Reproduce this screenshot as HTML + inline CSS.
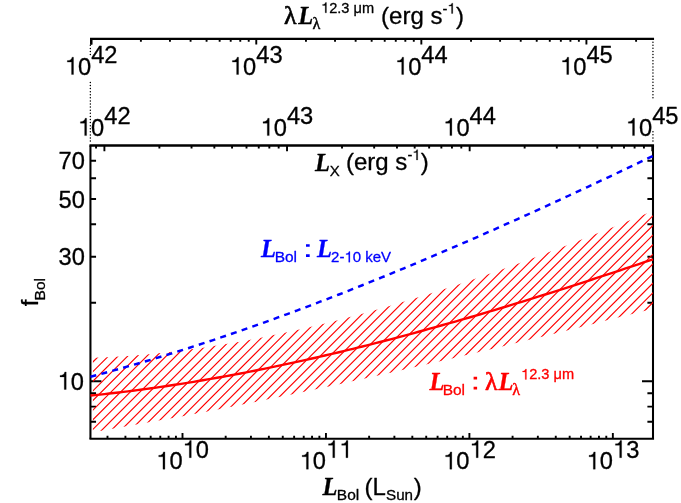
<!DOCTYPE html><html><head><meta charset="utf-8"><title>fBol</title>
<style>html,body{margin:0;padding:0;background:#fff;}svg{display:block;will-change:transform}text{font-family:"Liberation Sans",sans-serif;fill:#000;stroke:#000;stroke-width:.3px;stroke-linejoin:round;font-kerning:none}.s{font-family:"Liberation Serif",serif;stroke-width:.7px}.bi{font-family:"Liberation Serif",serif;font-weight:bold;font-style:italic}.b text,.b{fill:#0000ff}.r text,.r{fill:#ff0000}</style></head><body>
<svg width="681" height="503" viewBox="0 0 681 503">
<rect width="100%" height="100%" fill="#fff"/>
<g stroke="#000" fill="none" stroke-linecap="butt">
<path d="M90.00 38.80 H654.05" stroke-width="2.35"/>
<path d="M91.22 38.80 v5.8" stroke-width="2.45"/>
<path d="M89.45 145.50 H654.05" stroke-width="2.3"/>
<path d="M89.45 438.75 H654.05" stroke-width="2.1"/>
<path d="M90.45 145.50 V438.75 M653.00 145.50 V438.75" stroke-width="2.05"/>
</g>
<path d="M91.20 38.80 v5.80 M140.89 38.80 v3.00 M169.96 38.80 v3.00 M190.58 38.80 v3.00 M206.58 38.80 v3.00 M219.65 38.80 v3.00 M230.70 38.80 v3.00 M240.27 38.80 v3.00 M248.72 38.80 v3.00 M256.27 38.80 v5.80 M305.96 38.80 v3.00 M335.03 38.80 v3.00 M355.65 38.80 v3.00 M371.65 38.80 v3.00 M384.72 38.80 v3.00 M395.77 38.80 v3.00 M405.34 38.80 v3.00 M413.79 38.80 v3.00 M421.34 38.80 v5.80 M471.03 38.80 v3.00 M500.10 38.80 v3.00 M520.72 38.80 v3.00 M536.72 38.80 v3.00 M549.79 38.80 v3.00 M560.84 38.80 v3.00 M570.41 38.80 v3.00 M578.86 38.80 v3.00 M586.41 38.80 v5.80 M636.10 38.80 v3.00 M96.04 145.50 v3.00 M104.40 145.50 v5.80 M159.38 145.50 v3.00 M191.54 145.50 v3.00 M214.35 145.50 v3.00 M232.05 145.50 v3.00 M246.51 145.50 v3.00 M258.74 145.50 v3.00 M269.33 145.50 v3.00 M278.67 145.50 v3.00 M287.03 145.50 v5.80 M342.01 145.50 v3.00 M374.17 145.50 v3.00 M396.98 145.50 v3.00 M414.68 145.50 v3.00 M429.14 145.50 v3.00 M441.37 145.50 v3.00 M451.96 145.50 v3.00 M461.30 145.50 v3.00 M469.66 145.50 v5.80 M524.64 145.50 v3.00 M556.80 145.50 v3.00 M579.61 145.50 v3.00 M597.31 145.50 v3.00 M611.77 145.50 v3.00 M624.00 145.50 v3.00 M634.59 145.50 v3.00 M643.93 145.50 v3.00 M652.29 145.50 v5.80 M107.49 438.75 v-3.00 M125.42 438.75 v-3.00 M139.32 438.75 v-3.00 M150.68 438.75 v-3.00 M160.28 438.75 v-3.00 M168.60 438.75 v-3.00 M175.94 438.75 v-3.00 M182.50 438.75 v-5.80 M225.68 438.75 v-3.00 M250.94 438.75 v-3.00 M268.87 438.75 v-3.00 M282.77 438.75 v-3.00 M294.13 438.75 v-3.00 M303.73 438.75 v-3.00 M312.05 438.75 v-3.00 M319.39 438.75 v-3.00 M325.95 438.75 v-5.80 M369.13 438.75 v-3.00 M394.39 438.75 v-3.00 M412.32 438.75 v-3.00 M426.22 438.75 v-3.00 M437.58 438.75 v-3.00 M447.18 438.75 v-3.00 M455.50 438.75 v-3.00 M462.84 438.75 v-3.00 M469.40 438.75 v-5.80 M512.58 438.75 v-3.00 M537.84 438.75 v-3.00 M555.77 438.75 v-3.00 M569.67 438.75 v-3.00 M581.03 438.75 v-3.00 M590.63 438.75 v-3.00 M598.95 438.75 v-3.00 M606.29 438.75 v-3.00 M612.85 438.75 v-5.80 M90.45 421.71 h5.60 M653.00 421.71 h-5.60 M90.45 406.58 h5.60 M653.00 406.58 h-5.60 M90.45 393.24 h5.60 M653.00 393.24 h-5.60 M90.45 381.30 h11.00 M653.00 381.30 h-11.00 M90.45 302.76 h5.60 M653.00 302.76 h-5.60 M90.45 256.82 h5.60 M653.00 256.82 h-5.60 M90.45 224.22 h5.60 M653.00 224.22 h-5.60 M90.45 198.94 h5.60 M653.00 198.94 h-5.60 M90.45 178.28 h5.60 M653.00 178.28 h-5.60 M90.45 160.81 h5.60 M653.00 160.81 h-5.60" stroke="#000" stroke-width="1.9" fill="none"/>
<path d="M90.35 141.10h.01 M652.95 141.05h.01 M90.35 138.01h.01 M652.95 137.96h.01 M90.35 134.92h.01 M652.95 134.87h.01 M90.35 131.83h.01 M652.95 131.78h.01 M90.35 128.74h.01 M90.35 125.65h.01 M90.35 122.56h.01 M90.35 119.47h.01 M90.35 116.38h.01 M90.35 113.29h.01 M90.35 110.20h.01 M90.35 107.11h.01 M90.35 104.02h.01 M90.35 100.93h.01 M90.35 97.84h.01 M652.95 97.79h.01 M90.35 94.75h.01 M652.95 94.70h.01 M90.35 91.66h.01 M652.95 91.61h.01 M90.35 88.57h.01 M652.95 88.52h.01 M90.35 85.48h.01 M652.95 85.43h.01 M90.35 82.39h.01 M652.95 82.34h.01 M652.95 79.25h.01 M652.95 76.16h.01 M652.95 73.07h.01 M652.95 69.98h.01 M652.95 66.89h.01 M652.95 63.80h.01 M652.95 60.71h.01 M652.95 57.62h.01 M90.35 54.58h.01 M652.95 54.53h.01 M90.35 51.49h.01 M652.95 51.44h.01 M90.35 48.40h.01 M652.95 48.35h.01 M90.35 45.31h.01 M652.95 45.26h.01 M652.95 42.17h.01" stroke="#000" stroke-width="1.5" stroke-linecap="round" fill="none"/>
<defs><clipPath id="band"><polygon points="92.90,357.86 99.90,357.58 106.90,357.25 113.90,356.87 120.91,356.43 127.91,355.95 134.91,355.41 141.91,354.82 148.91,354.19 155.91,353.50 162.91,352.77 169.91,351.99 176.92,351.16 183.92,350.29 190.92,349.36 197.92,348.40 204.92,347.38 211.92,346.33 218.92,345.22 225.92,344.08 232.93,342.89 239.93,341.66 246.93,340.38 253.93,339.07 260.93,337.71 267.93,336.31 274.93,334.87 281.93,333.39 288.94,331.87 295.94,330.32 302.94,328.72 309.94,327.09 316.94,325.42 323.94,323.71 330.94,321.96 337.94,320.18 344.95,318.37 351.95,316.52 358.95,314.63 365.95,312.71 372.95,310.76 379.95,308.77 386.95,306.75 393.95,304.70 400.96,302.62 407.96,300.51 414.96,298.37 421.96,296.19 428.96,293.99 435.96,291.76 442.96,289.50 449.96,287.21 456.97,284.90 463.97,282.55 470.97,280.18 477.97,277.79 484.97,275.37 491.97,272.92 498.97,270.45 505.97,267.96 512.98,265.44 519.98,262.90 526.98,260.34 533.98,257.75 540.98,255.15 547.98,252.52 554.98,249.87 561.98,247.20 568.99,244.51 575.99,241.81 582.99,239.08 589.99,236.34 596.99,233.58 603.99,230.80 610.99,228.00 617.99,225.19 625.00,222.37 632.00,219.53 639.00,216.67 646.00,213.80 653.00,210.92 653.00,308.58 646.00,310.38 639.00,312.18 632.00,313.97 625.00,315.76 617.99,317.55 610.99,319.33 603.99,321.11 596.99,322.88 589.99,324.65 582.99,326.41 575.99,328.17 568.99,329.93 561.98,331.68 554.98,333.42 547.98,335.16 540.98,336.89 533.98,338.62 526.98,340.35 519.98,342.07 512.98,343.78 505.97,345.48 498.97,347.19 491.97,348.88 484.97,350.57 477.97,352.25 470.97,353.93 463.97,355.60 456.97,357.26 449.96,358.92 442.96,360.57 435.96,362.21 428.96,363.85 421.96,365.48 414.96,367.10 407.96,368.71 400.96,370.32 393.95,371.92 386.95,373.51 379.95,375.10 372.95,376.68 365.95,378.24 358.95,379.81 351.95,381.36 344.95,382.90 337.94,384.44 330.94,385.97 323.94,387.48 316.94,388.99 309.94,390.50 302.94,391.99 295.94,393.47 288.94,394.95 281.93,396.41 274.93,397.87 267.93,399.31 260.93,400.75 253.93,402.18 246.93,403.59 239.93,405.00 232.93,406.40 225.92,407.78 218.92,409.16 211.92,410.53 204.92,411.88 197.92,413.23 190.92,414.56 183.92,415.89 176.92,417.20 169.91,418.50 162.91,419.79 155.91,421.07 148.91,422.34 141.91,423.60 134.91,424.84 127.91,426.08 120.91,427.30 113.90,428.51 106.90,429.71 99.90,430.89 92.90,432.07"/></clipPath></defs>
<path d="M80.00 326.81 L660.00 -253.19 M80.00 336.43 L660.00 -243.57 M80.00 346.06 L660.00 -233.94 M80.00 355.68 L660.00 -224.32 M80.00 365.31 L660.00 -214.69 M80.00 374.93 L660.00 -205.07 M80.00 384.55 L660.00 -195.45 M80.00 394.18 L660.00 -185.82 M80.00 403.80 L660.00 -176.20 M80.00 413.43 L660.00 -166.57 M80.00 423.05 L660.00 -156.95 M80.00 432.67 L660.00 -147.33 M80.00 442.30 L660.00 -137.70 M80.00 451.92 L660.00 -128.08 M80.00 461.55 L660.00 -118.45 M80.00 471.17 L660.00 -108.83 M80.00 480.79 L660.00 -99.21 M80.00 490.42 L660.00 -89.58 M80.00 500.04 L660.00 -79.96 M80.00 509.67 L660.00 -70.33 M80.00 519.29 L660.00 -60.71 M80.00 528.91 L660.00 -51.09 M80.00 538.54 L660.00 -41.46 M80.00 548.16 L660.00 -31.84 M80.00 557.79 L660.00 -22.21 M80.00 567.41 L660.00 -12.59 M80.00 577.03 L660.00 -2.97 M80.00 586.66 L660.00 6.66 M80.00 596.28 L660.00 16.28 M80.00 605.91 L660.00 25.91 M80.00 615.53 L660.00 35.53 M80.00 625.15 L660.00 45.15 M80.00 634.78 L660.00 54.78 M80.00 644.40 L660.00 64.40 M80.00 654.03 L660.00 74.03 M80.00 663.65 L660.00 83.65 M80.00 673.27 L660.00 93.27 M80.00 682.90 L660.00 102.90 M80.00 692.52 L660.00 112.52 M80.00 702.15 L660.00 122.15 M80.00 711.77 L660.00 131.77 M80.00 721.39 L660.00 141.39 M80.00 731.02 L660.00 151.02 M80.00 740.64 L660.00 160.64 M80.00 750.27 L660.00 170.27 M80.00 759.89 L660.00 179.89 M80.00 769.51 L660.00 189.51 M80.00 779.14 L660.00 199.14 M80.00 788.76 L660.00 208.76 M80.00 798.39 L660.00 218.39 M80.00 808.01 L660.00 228.01 M80.00 817.63 L660.00 237.63 M80.00 827.26 L660.00 247.26 M80.00 836.88 L660.00 256.88 M80.00 846.51 L660.00 266.51 M80.00 856.13 L660.00 276.13 M80.00 865.75 L660.00 285.75 M80.00 875.38 L660.00 295.38 M80.00 885.00 L660.00 305.00 M80.00 894.63 L660.00 314.63 M80.00 904.25 L660.00 324.25 M80.00 913.87 L660.00 333.87 M80.00 923.50 L660.00 343.50 M80.00 933.12 L660.00 353.12 M80.00 942.75 L660.00 362.75 M80.00 952.37 L660.00 372.37 M80.00 961.99 L660.00 381.99 M80.00 971.62 L660.00 391.62 M80.00 981.24 L660.00 401.24 M80.00 990.87 L660.00 410.87 M80.00 1000.49 L660.00 420.49 M80.00 1010.11 L660.00 430.11 M80.00 1019.74 L660.00 439.74" stroke="#ff0000" stroke-width="1.15" fill="none" clip-path="url(#band)"/>
<polyline points="90.45,395.56 95.14,395.08 99.83,394.59 104.51,394.08 109.20,393.56 113.89,393.02 118.58,392.47 123.27,391.91 127.95,391.33 132.64,390.74 137.33,390.13 142.02,389.51 146.71,388.88 151.39,388.23 156.08,387.57 160.77,386.90 165.46,386.21 170.14,385.51 174.83,384.80 179.52,384.07 184.21,383.33 188.90,382.58 193.58,381.81 198.27,381.03 202.96,380.24 207.65,379.44 212.34,378.62 217.02,377.79 221.71,376.95 226.40,376.10 231.09,375.24 235.78,374.36 240.46,373.47 245.15,372.57 249.84,371.66 254.53,370.73 259.21,369.80 263.90,368.85 268.59,367.89 273.28,366.92 277.97,365.94 282.65,364.95 287.34,363.95 292.03,362.94 296.72,361.91 301.41,360.88 306.09,359.83 310.78,358.77 315.47,357.71 320.16,356.63 324.85,355.54 329.53,354.44 334.22,353.34 338.91,352.22 343.60,351.09 348.29,349.95 352.97,348.81 357.66,347.65 362.35,346.48 367.04,345.31 371.73,344.12 376.41,342.93 381.10,341.72 385.79,340.51 390.48,339.29 395.16,338.06 399.85,336.82 404.54,335.57 409.23,334.31 413.92,333.05 418.60,331.77 423.29,330.49 427.98,329.20 432.67,327.90 437.36,326.59 442.04,325.28 446.73,323.96 451.42,322.63 456.11,321.29 460.80,319.94 465.48,318.59 470.17,317.23 474.86,315.86 479.55,314.48 484.23,313.10 488.92,311.71 493.61,310.31 498.30,308.91 502.99,307.50 507.67,306.08 512.36,304.66 517.05,303.22 521.74,301.79 526.43,300.34 531.11,298.89 535.80,297.44 540.49,295.97 545.18,294.51 549.87,293.03 554.55,291.55 559.24,290.07 563.93,288.58 568.62,287.08 573.31,285.58 577.99,284.07 582.68,282.55 587.37,281.04 592.06,279.51 596.74,277.98 601.43,276.45 606.12,274.91 610.81,273.37 615.50,271.82 620.18,270.27 624.87,268.71 629.56,267.15 634.25,265.59 638.94,264.02 643.62,262.44 648.31,260.86 653.00,259.28" fill="none" stroke="#ff0000" stroke-width="2.4"/>
<polyline points="90.45,376.76 95.14,375.52 99.83,374.26 104.51,372.99 109.20,371.71 113.89,370.41 118.58,369.10 123.27,367.78 127.95,366.44 132.64,365.09 137.33,363.73 142.02,362.36 146.71,360.97 151.39,359.57 156.08,358.16 160.77,356.74 165.46,355.31 170.14,353.86 174.83,352.40 179.52,350.93 184.21,349.45 188.90,347.96 193.58,346.45 198.27,344.94 202.96,343.41 207.65,341.87 212.34,340.32 217.02,338.75 221.71,337.18 226.40,335.60 231.09,334.00 235.78,332.40 240.46,330.78 245.15,329.15 249.84,327.51 254.53,325.87 259.21,324.21 263.90,322.54 268.59,320.86 273.28,319.17 277.97,317.47 282.65,315.76 287.34,314.04 292.03,312.31 296.72,310.57 301.41,308.82 306.09,307.06 310.78,305.29 315.47,303.52 320.16,301.73 324.85,299.93 329.53,298.13 334.22,296.31 338.91,294.49 343.60,292.66 348.29,290.81 352.97,288.96 357.66,287.10 362.35,285.24 367.04,283.36 371.73,281.47 376.41,279.58 381.10,277.68 385.79,275.77 390.48,273.85 395.16,271.93 399.85,269.99 404.54,268.05 409.23,266.10 413.92,264.14 418.60,262.18 423.29,260.20 427.98,258.22 432.67,256.24 437.36,254.24 442.04,252.24 446.73,250.23 451.42,248.21 456.11,246.19 460.80,244.16 465.48,242.12 470.17,240.08 474.86,238.03 479.55,235.97 484.23,233.91 488.92,231.84 493.61,229.76 498.30,227.68 502.99,225.59 507.67,223.49 512.36,221.39 517.05,219.28 521.74,217.17 526.43,215.05 531.11,212.93 535.80,210.80 540.49,208.66 545.18,206.52 549.87,204.37 554.55,202.22 559.24,200.07 563.93,197.90 568.62,195.74 573.31,193.57 577.99,191.39 582.68,189.21 587.37,187.02 592.06,184.83 596.74,182.63 601.43,180.43 606.12,178.23 610.81,176.02 615.50,173.81 620.18,171.59 624.87,169.37 629.56,167.15 634.25,164.92 638.94,162.68 643.62,160.45 648.31,158.21 653.00,155.96" fill="none" stroke="#0000ff" stroke-width="2.45" stroke-dasharray="6.0 5.3"/>
<text transform="translate(78.02,74.50) scale(1,1.030)" font-size="23.7">0</text>
<path d="M73.51 74.50L73.51 57.19L72.04 57.19C71.71 59.37 70.10 60.56 67.30 60.61L67.30 62.12L71.55 62.12L71.55 74.50Z" fill="#000" stroke="#000" stroke-width=".25"/>
<text transform="translate(91.20,63.00) scale(1,1.030)" font-size="23.7">42</text>
<text transform="translate(91.12,135.60) scale(1,1.030)" font-size="23.7">0</text>
<path d="M86.61 135.60L86.61 118.29L85.14 118.29C84.81 120.47 83.20 121.66 80.40 121.71L80.40 123.22L84.65 123.22L84.65 135.60Z" fill="#000" stroke="#000" stroke-width=".25"/>
<text transform="translate(104.30,124.10) scale(1,1.030)" font-size="23.7">42</text>
<text transform="translate(243.09,74.50) scale(1,1.030)" font-size="23.7">0</text>
<path d="M238.58 74.50L238.58 57.19L237.11 57.19C236.78 59.37 235.17 60.56 232.37 60.61L232.37 62.12L236.62 62.12L236.62 74.50Z" fill="#000" stroke="#000" stroke-width=".25"/>
<text transform="translate(256.27,63.00) scale(1,1.030)" font-size="23.7">43</text>
<text transform="translate(273.75,135.60) scale(1,1.030)" font-size="23.7">0</text>
<path d="M269.24 135.60L269.24 118.29L267.77 118.29C267.44 120.47 265.83 121.66 263.03 121.71L263.03 123.22L267.28 123.22L267.28 135.60Z" fill="#000" stroke="#000" stroke-width=".25"/>
<text transform="translate(286.93,124.10) scale(1,1.030)" font-size="23.7">43</text>
<text transform="translate(408.16,74.50) scale(1,1.030)" font-size="23.7">0</text>
<path d="M403.65 74.50L403.65 57.19L402.18 57.19C401.85 59.37 400.24 60.56 397.44 60.61L397.44 62.12L401.69 62.12L401.69 74.50Z" fill="#000" stroke="#000" stroke-width=".25"/>
<text transform="translate(421.34,63.00) scale(1,1.030)" font-size="23.7">44</text>
<text transform="translate(456.38,135.60) scale(1,1.030)" font-size="23.7">0</text>
<path d="M451.87 135.60L451.87 118.29L450.40 118.29C450.07 120.47 448.46 121.66 445.66 121.71L445.66 123.22L449.91 123.22L449.91 135.60Z" fill="#000" stroke="#000" stroke-width=".25"/>
<text transform="translate(469.56,124.10) scale(1,1.030)" font-size="23.7">44</text>
<text transform="translate(573.23,74.50) scale(1,1.030)" font-size="23.7">0</text>
<path d="M568.72 74.50L568.72 57.19L567.25 57.19C566.92 59.37 565.31 60.56 562.51 60.61L562.51 62.12L566.76 62.12L566.76 74.50Z" fill="#000" stroke="#000" stroke-width=".25"/>
<text transform="translate(586.41,63.00) scale(1,1.030)" font-size="23.7">45</text>
<text transform="translate(639.01,135.60) scale(1,1.030)" font-size="23.7">0</text>
<path d="M634.50 135.60L634.50 118.29L633.03 118.29C632.70 120.47 631.09 121.66 628.29 121.71L628.29 123.22L632.54 123.22L632.54 135.60Z" fill="#000" stroke="#000" stroke-width=".25"/>
<text transform="translate(652.19,124.10) scale(1,1.030)" font-size="23.7">45</text>
<text transform="translate(169.42,469.20) scale(1,1.030)" font-size="23.7">0</text>
<path d="M164.91 469.20L164.91 451.89L163.44 451.89C163.11 454.07 161.50 455.26 158.70 455.31L158.70 456.82L162.95 456.82L162.95 469.20Z" fill="#000" stroke="#000" stroke-width=".25"/>
<text transform="translate(195.78,457.70) scale(1,1.030)" font-size="23.7">0</text>
<path d="M191.27 457.70L191.27 440.39L189.80 440.39C189.47 442.57 187.86 443.76 185.06 443.81L185.06 445.32L189.31 445.32L189.31 457.70Z" fill="#000" stroke="#000" stroke-width=".25"/>
<text transform="translate(312.87,469.20) scale(1,1.030)" font-size="23.7">0</text>
<path d="M308.36 469.20L308.36 451.89L306.89 451.89C306.56 454.07 304.95 455.26 302.15 455.31L302.15 456.82L306.40 456.82L306.40 469.20Z" fill="#000" stroke="#000" stroke-width=".25"/>
<path d="M334.72 457.70L334.72 440.39L333.25 440.39C332.92 442.57 331.31 443.76 328.51 443.81L328.51 445.32L332.76 445.32L332.76 457.70ZM347.91 457.70L347.91 440.39L346.44 440.39C346.10 442.57 344.49 443.76 341.70 443.81L341.70 445.32L345.94 445.32L345.94 457.70Z" fill="#000" stroke="#000" stroke-width=".25"/>
<text transform="translate(456.32,469.20) scale(1,1.030)" font-size="23.7">0</text>
<path d="M451.81 469.20L451.81 451.89L450.34 451.89C450.01 454.07 448.40 455.26 445.60 455.31L445.60 456.82L449.85 456.82L449.85 469.20Z" fill="#000" stroke="#000" stroke-width=".25"/>
<text transform="translate(482.68,457.70) scale(1,1.030)" font-size="23.7">2</text>
<path d="M478.17 457.70L478.17 440.39L476.70 440.39C476.37 442.57 474.76 443.76 471.96 443.81L471.96 445.32L476.21 445.32L476.21 457.70Z" fill="#000" stroke="#000" stroke-width=".25"/>
<text transform="translate(599.77,469.20) scale(1,1.030)" font-size="23.7">0</text>
<path d="M595.26 469.20L595.26 451.89L593.79 451.89C593.46 454.07 591.85 455.26 589.05 455.31L589.05 456.82L593.30 456.82L593.30 469.20Z" fill="#000" stroke="#000" stroke-width=".25"/>
<text transform="translate(626.13,457.70) scale(1,1.030)" font-size="23.7">3</text>
<path d="M621.62 457.70L621.62 440.39L620.15 440.39C619.82 442.57 618.21 443.76 615.41 443.81L615.41 445.32L619.66 445.32L619.66 457.70Z" fill="#000" stroke="#000" stroke-width=".25"/>
<text transform="translate(58.54,169.41) scale(1,1.045)" font-size="23.7">70</text>
<text transform="translate(58.54,207.54) scale(1,1.045)" font-size="23.7">50</text>
<text transform="translate(58.54,265.42) scale(1,1.045)" font-size="23.7">30</text>
<text transform="translate(70.72,389.50) scale(1,1.045)" font-size="23.7">0</text>
<path d="M66.21 389.50L66.21 371.94L64.74 371.94C64.41 374.14 62.80 375.36 60.00 375.41L60.00 376.94L64.25 376.94L64.25 389.50Z" fill="#000" stroke="#000" stroke-width=".25"/>
<text x="284.12" y="23.80" font-size="25.8" class="s">λ</text>
<text x="298.18" y="23.80" font-size="24.5" class="bi">L</text>
<text x="312.57" y="29.00" font-size="16.2" class="s" style="stroke-width:.45px">λ</text>
<text x="329.20" y="12.80" font-size="14.6">2.3 μm</text>
<path d="M326.43 12.80L326.43 2.45L325.52 2.45C325.32 3.75 324.32 4.46 322.60 4.49L322.60 5.40L325.21 5.40L325.21 12.80Z" fill="#000" stroke="#000" stroke-width=".25"/>
<text x="381.11" y="23.60" font-size="24.0">(erg s</text>
<text x="442.55" y="13.50" font-size="14.6">-</text>
<path d="M452.76 13.50L452.76 3.15L451.85 3.15C451.65 4.45 450.65 5.16 448.93 5.19L448.93 6.10L451.54 6.10L451.54 13.50Z" fill="#000" stroke="#000" stroke-width=".25"/>
<text x="455.96" y="23.60" font-size="24.0">)</text>
<text x="314.88" y="170.75" font-size="24.5" class="bi">L</text>
<text x="329.66" y="176.00" font-size="15.0">X</text>
<text x="345.96" y="170.30" font-size="24.0">(erg s</text>
<text x="407.45" y="160.00" font-size="14.6">-</text>
<path d="M417.66 160.00L417.66 149.65L416.75 149.65C416.55 150.95 415.55 151.66 413.83 151.69L413.83 152.60L416.44 152.60L416.44 160.00Z" fill="#000" stroke="#000" stroke-width=".25"/>
<text x="420.76" y="170.30" font-size="24.0">)</text>
<text x="322.48" y="494.85" font-size="24.5" class="bi">L</text>
<text x="336.83" y="500.40" font-size="15.5">Bol</text>
<text x="364.51" y="494.85" font-size="24.0">(L</text>
<text x="386.01" y="500.40" font-size="15.2">Sun</text>
<text x="413.66" y="494.85" font-size="24.0">)</text>
<g transform="translate(37.9,306.2) rotate(-90)"><text x="0" y="0" font-size="24">f</text><text x="5.8" y="6.9" font-size="15.5">Bol</text></g>
<text x="260.98" y="257.00" font-size="24.5" class="bi" style="fill:#0000ff;stroke:#0000ff">L</text>
<text x="274.63" y="262.20" font-size="15.5" style="fill:#0000ff;stroke:#0000ff">Bol</text>
<path d="M306 244.2h3.7v2.6h-3.7z M306 254.2h3.7v2.7h-3.7z" fill="#0000ff"/>
<text x="316.98" y="257.00" font-size="24.5" class="bi" style="fill:#0000ff;stroke:#0000ff">L</text>
<text x="331.10" y="262.20" font-size="15.0" style="fill:#0000ff;stroke:#0000ff">2-</text>
<text x="352.78" y="262.20" font-size="15.0" style="fill:#0000ff;stroke:#0000ff">0 keV</text>
<path d="M349.92 262.20L349.92 251.56L348.99 251.56C348.78 252.90 347.76 253.63 345.99 253.66L345.99 254.59L348.68 254.59L348.68 262.20Z" fill="#0000ff" stroke="#0000ff" stroke-width=".25"/>
<text x="429.58" y="389.60" font-size="24.5" class="bi" style="fill:#ff0000;stroke:#ff0000">L</text>
<text x="442.63" y="394.95" font-size="15.5" style="fill:#ff0000;stroke:#ff0000">Bol</text>
<path d="M473.6 376.8h3.5v2.8h-3.5z M473.6 386.7h3.5v2.8h-3.5z" fill="#ff0000"/>
<text x="485.12" y="389.60" font-size="25.8" class="s" style="fill:#ff0000;stroke:#ff0000">λ</text>
<text x="498.38" y="389.60" font-size="24.5" class="bi" style="fill:#ff0000;stroke:#ff0000">L</text>
<text x="512.17" y="394.90" font-size="16.2" class="s" style="fill:#ff0000;stroke:#ff0000;stroke-width:.45px">λ</text>
<text x="529.20" y="379.40" font-size="14.6" style="fill:#ff0000;stroke:#ff0000">2.3 μm</text>
<path d="M526.43 379.40L526.43 369.05L525.52 369.05C525.32 370.35 524.32 371.06 522.60 371.09L522.60 372.00L525.21 372.00L525.21 379.40Z" fill="#ff0000" stroke="#ff0000" stroke-width=".25"/>
</svg></body></html>
